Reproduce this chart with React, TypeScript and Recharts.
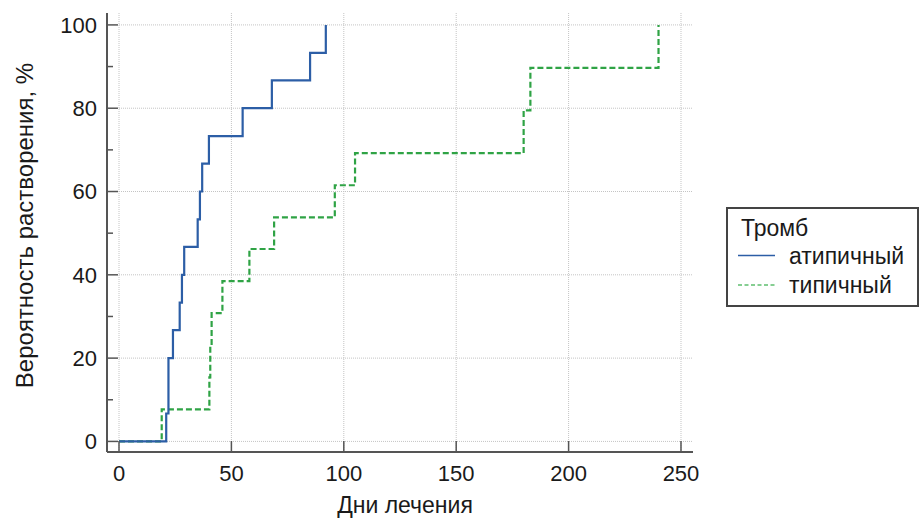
import React from 'react';
import { LineChart, Line, XAxis, YAxis, ReferenceLine } from 'recharts';

// step points (days, cumulative %)
const atypicalDays = [0, 21, 22, 24, 27, 28, 29, 35, 36, 37, 40, 55, 68, 85, 92];
const atypicalPct = [0, 6.7, 20, 26.7, 33.3, 40, 46.7, 53.3, 60, 66.7, 73.3, 80, 86.7, 93.3, 100];

const typicalDays = [0, 19, 40.2, 40.6, 41.2, 46, 58, 69, 96, 105, 180, 183, 240];
const typicalPct = [0, 7.7, 15.4, 23.1, 30.8, 38.5, 46.2, 53.8, 61.5, 69.2, 79.5, 89.7, 100];

const xTicks = [0, 50, 100, 150, 200, 250];
const yTicks = [0, 10, 20, 30, 40, 50, 60, 70, 80, 90, 100];
const yLabeled = [0, 20, 40, 60, 80, 100];

const X_DOMAIN: [number, number] = [-5.34, 255.34];
const Y_DOMAIN: [number, number] = [-2.54, 102.86];

const FONT = '"Liberation Sans", Arial, sans-serif';
const AXIS = '#555555';
const GRID = '#c4c4c4';
const BLUE = '#2c5ea6';
const GREEN = '#2fa345';

const atypical = atypicalDays.map((d, i) => ({ day: d, pct: atypicalPct[i] }));
const typical = typicalDays.map((d, i) => ({ day: d, pct: typicalPct[i] }));

function YTick(props: any) {
  const { x, y, payload } = props;
  const ax = x + 10; // tickMargin below
  const major = yLabeled.includes(payload.value);
  return (
    <g>
      <line x1={ax} x2={ax + (major ? 11 : 6)} y1={y} y2={y} stroke={AXIS} strokeWidth={1.5} />
      {major && (
        <text x={x} y={y} dy="0.36em" textAnchor="end" fontSize={22} fontFamily={FONT} fill="#1a1a1a">
          {payload.value}
        </text>
      )}
    </g>
  );
}

function XTick(props: any) {
  const { x, y, payload } = props;
  return (
    <g>
      <line x1={x} x2={x} y1={y} y2={y - 11} stroke={AXIS} strokeWidth={1.5} />
      <text x={x} y={y + 29} textAnchor="middle" fontSize={22} fontFamily={FONT} fill="#1a1a1a">
        {payload.value}
      </text>
    </g>
  );
}

function LegendBox() {
  return (
    <svg width={193} height={100} style={{ position: 'absolute', left: 726, top: 207 }}>
      <rect x={1} y={1} width={191} height={98} fill="#fff" stroke="#444" strokeWidth={2} />
      <text x={15} y={29} fontSize={23} fontFamily={FONT} fill="#1a1a1a">Тромб</text>
      <line x1={12} x2={49} y1={48.5} y2={48.5} stroke={BLUE} strokeWidth={1.5} />
      <text x={63} y={56.5} fontSize={23} fontFamily={FONT} fill="#1a1a1a">атипичный</text>
      <line x1={12} x2={49} y1={78} y2={78} stroke="#5fbf6f" strokeWidth={1.6} strokeDasharray="4 2.5" />
      <text x={63} y={85.5} fontSize={23} fontFamily={FONT} fill="#1a1a1a">типичный</text>
    </svg>
  );
}

export default function App() {
  return (
    <div style={{ position: 'absolute', left: 0, top: 0, width: 920, height: 518, background: '#fff' }}>
      <LineChart width={920} height={518} margin={{ top: 13, right: 227, left: 0, bottom: 0 }}>
        <XAxis
          type="number"
          dataKey="day"
          domain={X_DOMAIN}
          ticks={xTicks}
          allowDataOverflow
          height={66}
          tickSize={0}
          tickMargin={0}
          tickLine={false}
          axisLine={{ stroke: AXIS, strokeWidth: 2 }}
          tick={<XTick />}
          label={(p: any) => {
            const vb = p.viewBox;
            return (
              <text x={vb.x + vb.width / 2 + 5} y={vb.y + 61} textAnchor="middle" fontSize={23} fontFamily={FONT} fill="#1a1a1a">
                Дни лечения
              </text>
            );
          }}
        />
        <YAxis
          type="number"
          dataKey="pct"
          domain={Y_DOMAIN}
          ticks={yTicks}
          allowDataOverflow
          width={107}
          tickSize={0}
          tickMargin={10}
          tickLine={false}
          axisLine={{ stroke: AXIS, strokeWidth: 2 }}
          tick={<YTick />}
          label={(p: any) => {
            const vb = p.viewBox;
            const cx = 24;
            const cy = vb.y + vb.height / 2 - 7;
            return (
              <text
                x={cx}
                y={cy}
                transform={`rotate(-90, ${cx}, ${cy})`}
                textAnchor="middle"
                dominantBaseline="central"
                fontSize={24}
                fontFamily={FONT}
                fill="#1a1a1a"
              >
                Вероятность растворения, %
              </text>
            );
          }}
        />
        {xTicks.map((v) => (
          <ReferenceLine key={'gx' + v} x={v} stroke={GRID} strokeDasharray="1 1" />
        ))}
        {yLabeled.map((v) => (
          <ReferenceLine
            key={'gy' + v}
            segment={[{ x: 0, y: v }, { x: X_DOMAIN[1], y: v }]}
            stroke={GRID}
            strokeDasharray="1 1"
          />
        ))}
        <Line
          data={typical}
          dataKey="pct"
          type="stepAfter"
          stroke={GREEN}
          strokeWidth={2.2}
          strokeDasharray="6 3"
          dot={false}
          isAnimationActive={false}
        />
        <Line
          data={atypical}
          dataKey="pct"
          type="stepAfter"
          stroke={BLUE}
          strokeWidth={2.2}
          dot={false}
          isAnimationActive={false}
        />
      </LineChart>
      <LegendBox />
    </div>
  );
}
